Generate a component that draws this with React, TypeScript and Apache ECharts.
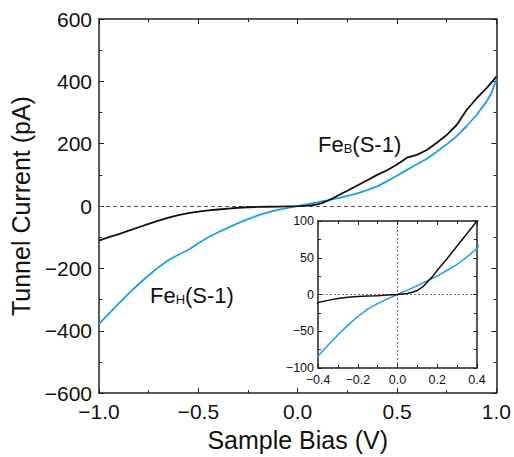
import React, { useEffect, useRef } from "react";
import * as echarts from "echarts";

// Sample bias (V)
const bias = [
  -1.0, -0.95, -0.9, -0.85, -0.8, -0.75, -0.7, -0.65, -0.6, -0.55, -0.5, -0.45, -0.4, -0.35, -0.3,
  -0.25, -0.2, -0.15, -0.1, -0.05, 0, 0.05, 0.075, 0.1, 0.125, 0.15, 0.175, 0.2, 0.25, 0.3, 0.35,
  0.4, 0.45, 0.5, 0.55, 0.6, 0.65, 0.7, 0.75, 0.8, 0.85, 0.9, 0.95, 0.975, 1.0,
];
// Fe_B(S-1) tunnel current (pA) - black
const feB = [
  -111, -100, -90, -79, -68, -57, -47, -37, -29, -23, -18, -14, -11, -8, -5.5,
  -3.8, -2.8, -2.2, -1.6, -0.8, 0, 1.5, 3, 5.5, 10, 17, 24, 33, 49, 66, 83,
  100, 115, 133, 155, 164, 180, 203, 228, 260, 308, 345, 378, 396, 415,
];
// Fe_H(S-1) tunnel current (pA) - blue
const feH = [
  -378, -345, -312, -280, -250, -222, -196, -173, -156, -140, -119, -100, -84, -69, -55,
  -42, -30, -20, -12.5, -6, 0, 6, 9, 12, 15.5, 18.5, 22, 25, 33, 41, 51,
  63, 80, 97, 116, 134, 152, 174, 198, 224, 256, 292, 335, 362, 406,
];

const mainXTicks = { min: -1, max: 1, interval: 0.5 };
const mainYTicks = { min: -600, max: 600, interval: 200 };
const insetXTicks = { min: -0.4, max: 0.4, interval: 0.2 };
const insetYTicks = { min: -100, max: 100, interval: 50 };

const FONT = "'Liberation Sans', Arial, Helvetica, sans-serif";
const BLACK = "#111111";
const BLUE = "#1AA0E6";

const minus = (s: string) => s.replace("-", "\u2212");
const fmt1 = (v: number) => minus((Math.abs(v) < 1e-9 ? 0 : v).toFixed(1));
const fmt0 = (v: number) => minus(String(Math.round(v)));

export default function App() {
  const ref = useRef<HTMLDivElement>(null);
  useEffect(() => {
    if (!ref.current) return;
    const chart = echarts.init(ref.current, undefined, { renderer: "svg" });
    const pairs = (ys: number[]) => bias.map((x, i) => [x, ys[i]]);

    const axisLine = { show: true, onZero: false, lineStyle: { color: "#222", width: 1.5 } };
    const mkX = (grid: number, t: any, pos: "bottom" | "top", labels: boolean, big: boolean) => ({
      type: "value",
      gridIndex: grid,
      position: pos,
      min: t.min,
      max: t.max,
      interval: t.interval,
      axisLine,
      splitLine: { show: false },
      axisTick: { show: true, inside: true, length: big ? 5 : 4, lineStyle: { color: "#222", width: 1 } },
      minorTick: { show: true, splitNumber: 2, length: 3, lineStyle: { color: "#222", width: 1 } },
      axisLabel: {
        show: labels,
        formatter: fmt1,
        fontSize: big ? 21 : 12.5,
        color: "#111",
        fontFamily: FONT,
        margin: big ? 8 : 5,
        showMinLabel: true,
        showMaxLabel: true,
      },
    });
    const mkY = (grid: number, t: any, pos: "left" | "right", labels: boolean, big: boolean) => ({
      type: "value",
      gridIndex: grid,
      position: pos,
      min: t.min,
      max: t.max,
      interval: t.interval,
      axisLine,
      splitLine: { show: false },
      axisTick: { show: true, inside: true, length: big ? 5 : 4, lineStyle: { color: "#222", width: 1 } },
      minorTick: { show: true, splitNumber: 2, length: 3, lineStyle: { color: "#222", width: 1 } },
      axisLabel: {
        show: labels,
        formatter: fmt0,
        fontSize: big ? 21 : 12.5,
        color: "#111",
        fontFamily: FONT,
        margin: big ? 7 : 4,
        showMinLabel: true,
        showMaxLabel: true,
      },
    });

    const mainX = {
      ...mkX(0, mainXTicks, "bottom", true, true),
      name: "Sample Bias (V)",
      nameLocation: "middle",
      nameGap: 30,
      nameTextStyle: { fontSize: 25, color: "#111", fontFamily: FONT },
    };
    const mainY = {
      ...mkY(0, mainYTicks, "left", true, true),
      name: "Tunnel Current (pA)",
      nameLocation: "middle",
      nameGap: 60,
      nameTextStyle: { fontSize: 25, color: "#111", fontFamily: FONT },
    };

    const lineBase = { type: "line", showSymbol: false, symbol: "none", smooth: false, clip: true };

    chart.setOption({
      animation: false,
      backgroundColor: "#ffffff",
      textStyle: { fontFamily: FONT },
      grid: [
        { left: 99, top: 19, width: 398, height: 375 },
        { left: 318, top: 221, width: 159, height: 147, show: true, backgroundColor: "#ffffff", borderWidth: 0, z: 5 },
      ],
      xAxis: [
        mainX,
        mkX(0, mainXTicks, "top", false, true),
        { ...mkX(1, insetXTicks, "bottom", true, false), z: 6 },
        { ...mkX(1, insetXTicks, "top", false, false), z: 6 },
      ],
      yAxis: [
        mainY,
        mkY(0, mainYTicks, "right", false, true),
        { ...mkY(1, insetYTicks, "left", true, false), z: 6 },
        { ...mkY(1, insetYTicks, "right", false, false), z: 6 },
      ],
      series: [
        {
          ...lineBase,
          name: "FeB main",
          xAxisIndex: 0,
          yAxisIndex: 0,
          data: pairs(feB),
          lineStyle: { color: BLACK, width: 1.8 },
          z: 3,
          markLine: {
            silent: true,
            symbol: "none",
            label: { show: false },
            lineStyle: { color: "#555", type: [4, 3], width: 1 },
            data: [{ yAxis: 0 }],
            z: 1,
          },
        },
        {
          ...lineBase,
          name: "FeH main",
          xAxisIndex: 0,
          yAxisIndex: 0,
          data: pairs(feH),
          lineStyle: { color: BLUE, width: 1.8 },
          z: 2,
        },
        {
          ...lineBase,
          name: "FeB inset",
          xAxisIndex: 2,
          yAxisIndex: 2,
          data: pairs(feB),
          lineStyle: { color: BLACK, width: 1.5 },
          z: 8,
          markLine: {
            silent: true,
            symbol: "none",
            label: { show: false },
            lineStyle: { color: "#777", type: [2, 2], width: 1.2 },
            data: [{ yAxis: 0 }, { xAxis: 0 }],
            z: 6,
          },
        },
        {
          ...lineBase,
          name: "FeH inset",
          xAxisIndex: 2,
          yAxisIndex: 2,
          data: pairs(feH),
          lineStyle: { color: BLUE, width: 1.5 },
          z: 7,
        },
      ],
      graphic: [
        {
          type: "text",
          x: 318,
          y: 155,
          z: 10,
          style: {
            text: "{a|Fe}{b|B}{a|(S-1)}",
            align: "left",
            verticalAlign: "bottom",
            rich: {
              a: { fontSize: 22, fontFamily: FONT, fill: "#111", lineHeight: 22, verticalAlign: "bottom" },
              b: { fontSize: 13, fontFamily: FONT, fill: "#111", lineHeight: 13, verticalAlign: "bottom" },
            },
          },
        },
        {
          type: "text",
          x: 150,
          y: 306,
          z: 10,
          style: {
            text: "{a|Fe}{b|H}{a|(S-1)}",
            align: "left",
            verticalAlign: "bottom",
            rich: {
              a: { fontSize: 22, fontFamily: FONT, fill: "#111", lineHeight: 22, verticalAlign: "bottom" },
              b: { fontSize: 13, fontFamily: FONT, fill: "#111", lineHeight: 13, verticalAlign: "bottom" },
            },
          },
        },
      ],
    });
    return () => chart.dispose();
  }, []);
  return (
    <div
      ref={ref}
      style={{ position: "fixed", left: 0, top: 0, width: 514, height: 457, background: "#fff" }}
    />
  );
}
